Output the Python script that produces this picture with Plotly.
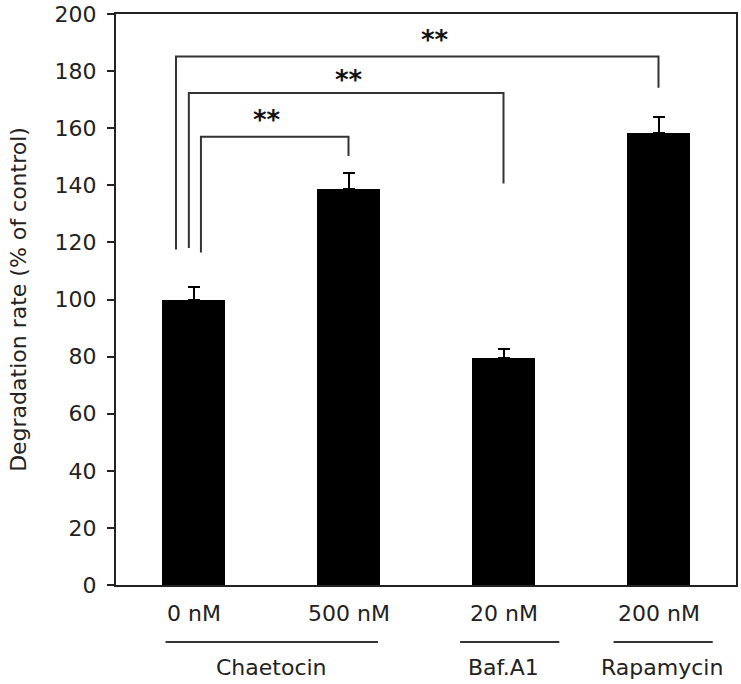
import plotly.graph_objects as go

# ---- data ----
doses = ["0 nM", "500 nM", "20 nM", "200 nM"]
values = [100.0, 138.8, 79.5, 158.4]
errors = [4.5, 5.4, 3.3, 5.5]

groups = ["Chaetocin", "Baf.A1", "Rapamycin"]
group_label_x = [0.5, 2.0, 3.02]
group_line_start = [-0.18, 1.72, 2.71]
group_line_end = [1.19, 2.36, 3.35]

y_ticks = [0, 20, 40, 60, 80, 100, 120, 140, 160, 180, 200]

# significance brackets: left x, right x, top y, left bottom, right bottom, star x, star y
br_left = [-0.113, -0.03, 0.048]
br_right = [3.0, 2.0, 1.0]
br_top = [185.1, 172.3, 157.0]
br_left_bottom = [117.5, 118.0, 116.5]
br_right_bottom = [174.2, 140.6, 150.3]
star_x = [1.56, 1.006, 0.477]
star_y = [191.7, 177.6, 163.4]
star_text = ["**", "**", "**"]

FONT = "DejaVu Sans"
xpos = list(range(len(doses)))

fig = go.Figure()
fig.add_trace(go.Bar(
    x=xpos, y=values, width=0.41,
    marker=dict(color="black", line=dict(width=0)),
    error_y=dict(type="data", array=errors, arrayminus=[0] * len(errors),
                 symmetric=False, color="black", thickness=2, width=6),
    showlegend=False,
))

shapes = []
line_style = dict(color="#333333", width=2)
for i in range(len(br_left)):
    shapes.append(dict(type="path", xref="x", yref="y",
                       path=f"M {br_left[i]},{br_left_bottom[i]} L {br_left[i]},{br_top[i]} "
                            f"L {br_right[i]},{br_top[i]} L {br_right[i]},{br_right_bottom[i]}",
                       line=line_style))

annotations = []
for i in range(len(star_x)):
    annotations.append(dict(x=star_x[i], y=star_y[i], xref="x", yref="y",
                            text="<b>" + star_text[i] + "</b>", showarrow=False,
                            font=dict(family=FONT, size=26, color="#111111"),
                            yanchor="middle", yshift=-2))

# category (dose) labels
for i, d in enumerate(doses):
    annotations.append(dict(x=xpos[i], y=0, xref="x", yref="paper", text=d,
                            showarrow=False, yanchor="middle", yshift=-28,
                            font=dict(family=FONT, size=22, color="#222222")))

# group underlines and labels
for i, g in enumerate(groups):
    shapes.append(dict(type="line", xref="x", yref="paper",
                       x0=group_line_start[i], x1=group_line_end[i],
                       y0=-0.0998, y1=-0.0998,
                       line=dict(color="#333333", width=2)))
    annotations.append(dict(x=group_label_x[i], y=0, xref="x", yref="paper", text=g,
                            showarrow=False, yanchor="middle", yshift=-82,
                            font=dict(family=FONT, size=22, color="#222222")))

fig.update_layout(
    width=741, height=684,
    margin=dict(l=116, r=5, t=14, b=99, autoexpand=False),
    paper_bgcolor="white", plot_bgcolor="white",
    font=dict(family=FONT, size=22, color="black"),
    shapes=shapes, annotations=annotations,
    xaxis=dict(range=[-0.5, 3.5], showticklabels=False, ticks="",
               showline=True, linecolor="#222222", linewidth=2, mirror=True,
               showgrid=False, zeroline=False, automargin=False),
    yaxis=dict(range=[0, 200], tickvals=y_ticks, ticks="outside", ticklen=7,
               tickwidth=2, tickcolor="#222222", automargin=False,
               showline=True, linecolor="#222222", linewidth=2, mirror=True,
               showgrid=False, zeroline=False, ticklabelstandoff=6,
               ticklabeloverflow="allow",
               tickfont=dict(family=FONT, size=22, color="#222222"),
               title=dict(text="Degradation rate (% of control)", standoff=22,
                          font=dict(family=FONT, size=22, color="#222222"))),
    bargap=0,
)

# remove the page's default 8px body margin so the figure fills the window exactly
fig.write_html("out.html", config={"displayModeBar": False},
               post_script="document.body.style.margin='0';document.body.style.overflow='hidden';")
